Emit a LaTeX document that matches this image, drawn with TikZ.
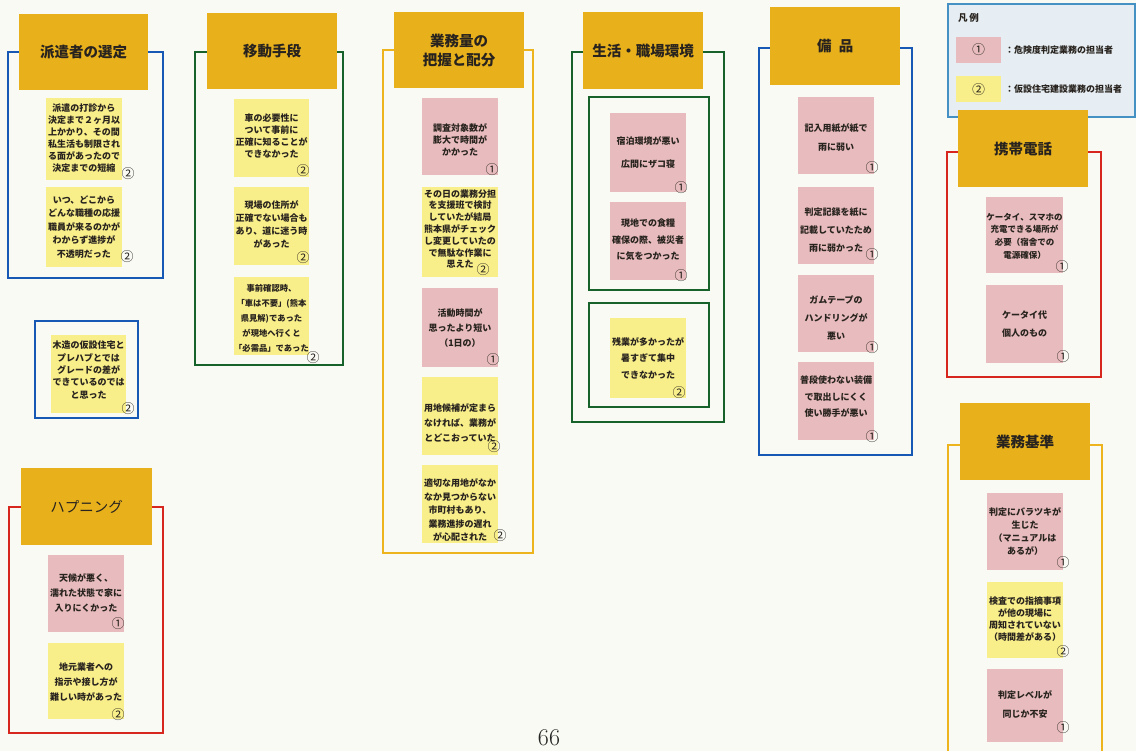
\documentclass[tikz,border=0pt]{standalone}
\usepackage{fontspec}
\newfontfamily\jp{Noto Sans CJK JP}
\definecolor{paper}{RGB}{250,250,244}
\definecolor{headgold}{RGB}{232,177,28}
\definecolor{notepink}{RGB}{232,188,190}
\definecolor{noteyellow}{RGB}{248,238,138}
\definecolor{fblue}{RGB}{22,88,180}
\definecolor{fgreen}{RGB}{22,98,42}
\definecolor{fred}{RGB}{214,38,30}
\definecolor{fgold}{RGB}{238,180,30}
\definecolor{legfill}{RGB}{230,238,243}
\definecolor{legline}{RGB}{70,145,195}
\definecolor{ink}{RGB}{40,35,30}
% note text font: size and line spacing
\newcommand\nf[2]{\jp\bfseries\fontsize{#1}{#2}\selectfont}
% a sticky note: name, x1, y1, x2, y2, fill, text centre y, {size}{spacing}, text
\newcommand\stick[9]{%
  \node[notebox, fill=#6, minimum width={#4-#2}, minimum height={#5-#3}] (#1) at ({(#2+#4)/2},{(#3+#5)/2}) {};
  \node[notetext, font=\nf#8] (#1-t) at ({(#2+#4)/2},#7) {#9};}
\tikzset{
  frame/.style={line width=2.5pt},
  innerframe/.style={line width=2.2pt},
  header/.style={fill=headgold, inner sep=0pt, anchor=north west, text=ink, align=center,
    font=\jp\bfseries\fontsize{14.5}{19}\selectfont},
  notebox/.style={inner sep=0pt, draw=none},
  notetext/.style={inner sep=0pt, align=center, text=ink},
  num/.style={inner sep=0pt, text=ink, font=\jp\fontsize{13}{13}\selectfont},
}
\begin{document}
\begin{tikzpicture}[x=1pt,y=-1pt]
\useasboundingbox (0,0) rectangle (1136,751);
\fill[paper] (0,0) rectangle (1136,751);

% group frames
\draw[frame, fblue] (8,52) rectangle (163,278);
\draw[frame, fblue] (35,321) rectangle (138,418);
\draw[frame, fred] (9,507) rectangle (163,733);
\draw[frame, fgreen] (195,52) rectangle (343,365);
\draw[frame, fgold] (383,50) rectangle (533,553);
\draw[frame, fgreen] (572,52) rectangle (724,422);
\draw[innerframe, fgreen] (589,97) rectangle (709,290);
\draw[innerframe, fgreen] (589,303) rectangle (709,407);
\draw[frame, fblue] (759,48) rectangle (912,455);
\draw[frame, fred] (947,152) rectangle (1101,377);
\draw[frame, fgold] (948,445) rectangle (1102,770);

% legend
\draw[legline, line width=1.8pt, fill=legfill] (948,4) rectangle (1135,117);
\node[anchor=west, inner sep=0pt, text=ink, font=\jp\bfseries\fontsize{9.5}{10}\selectfont] (lg-title) at (958,18) {凡\,例};
\node[fill=notepink, minimum width=45, minimum height=26, inner sep=0pt, font=\jp\fontsize{13}{13}\selectfont, text=ink] (lg-p) at (978.5,50) {①};
\node[fill=noteyellow, minimum width=45, minimum height=26, inner sep=0pt, font=\jp\fontsize{13}{13}\selectfont, text=ink] (lg-y) at (978.5,89.5) {②};
\node[anchor=west, inner sep=0pt, text=ink, font=\jp\bfseries\fontsize{9}{10}\selectfont] (lg-pt) at (1005,50) {：危険度判定業務の担当者};
\node[anchor=west, inner sep=0pt, text=ink, font=\jp\bfseries\fontsize{9}{10}\selectfont] (lg-yt) at (1005,89.5) {：仮設住宅建設業務の担当者};

% headers
\node[header, minimum width=129, minimum height=76] (h1) at (19,14) {派遣者の選定};
\node[header, minimum width=130, minimum height=76] (h2) at (207,13) {移動手段};
\node[header, minimum width=130, minimum height=76] (h3) at (394,12) {業務量の\\把握と配分};
\node[header, minimum width=120, minimum height=77] (h4) at (583,12) {生活・職場環境};
\node[header, minimum width=130, minimum height=78] (h5) at (770,7) {備\hspace{0.5em}品};
\node[header, minimum width=130, minimum height=77] (h6) at (958,110) {携帯電話};
\node[header, minimum width=130, minimum height=77] (h7) at (960,403) {業務基準};
\node[header, minimum width=131, minimum height=77, font=\jp\fontsize{14.5}{19}\selectfont] (h8) at (21,468) {ハプニング};

% 派遣者の選定
\stick{s1}{46}{98}{122}{180}{noteyellow}{138}{{9}{12}}{派遣の打診から\\決定まで２ヶ月以\\上かかり、その間\\私生活も制限され\\る面があったので\\決定までの短縮}
\node[num] (s1-n) at (128,174) {②};
\stick{s2}{46}{187}{122}{267}{noteyellow}{227}{{9}{13.5}}{いつ、どこから\\どんな職種の応援\\職員が来るのかが\\わからず進捗が\\不透明だった}
\node[num] (s2-n) at (127,257) {②};
\stick{s3}{51}{335}{126}{413}{noteyellow}{370}{{9}{12.3}}{木造の仮設住宅と\\プレハブとでは\\グレードの差が\\できているのでは\\と思った}
\node[num] (s3-n) at (128,409) {②};

% ハプニング
\stick{s4}{48}{555}{124}{632}{notepink}{593}{{9}{15}}{天候が悪く、\\濡れた状態で家に\\入りにくかった}
\node[num] (s4-n) at (118,624) {①};
\stick{s5}{48}{643}{124}{719}{noteyellow}{682}{{9}{15}}{地元業者への\\指示や接し方が\\難しい時があった}
\node[num] (s5-n) at (118,715) {②};

% 移動手段
\stick{m1}{234}{99}{309}{177}{noteyellow}{136}{{9}{12}}{車の必要性に\\ついて事前に\\正確に知ることが\\できなかった}
\node[num] (m1-n) at (303,171) {②};
\stick{m2}{234}{187}{309}{265}{noteyellow}{224}{{9}{13}}{現場の住所が\\正確でない場合も\\あり、道に迷う時\\があった}
\node[num] (m2-n) at (303,258) {②};
\stick{m3}{234}{277}{309}{355}{noteyellow}{318}{{8.3}{15}}{事前確認時、\\「車は不要」(熊本\\県見解)であった\\が現地へ行くと\\「必需品」であった}
\node[num] (m3-n) at (313,358) {②};

% 業務量の把握と配分
\stick{b1}{422}{98}{498}{175}{notepink}{140}{{9}{12}}{調査対象数が\\膨大で時間が\\かかった}
\node[num] (b1-n) at (492,170) {①};
\stick{b2}{422}{187}{498}{277}{noteyellow}{229}{{9}{11.8}}{その日の業務分担\\を支援班で検討\\していたが結局\\熊本県がチェック\\し変更していたの\\で無駄な作業に\\思えた}
\node[num] (b2-n) at (483,270) {②};
\stick{b3}{422}{288}{498}{367}{notepink}{328}{{9}{15}}{活動時間が\\思ったより短い\\（1日の）}
\node[num] (b3-n) at (493,360) {①};
\stick{b4}{422}{377}{498}{455}{noteyellow}{423}{{9}{15}}{用地候補が定まら\\なければ、業務が\\とどこおっていた}
\node[num] (b4-n) at (494,447) {②};
\stick{b5}{422}{465}{498}{543}{noteyellow}{510}{{9}{13.5}}{適切な用地がなか\\なか見つからない\\市町村もあり、\\業務進捗の遅れ\\が心配された}
\node[num] (b5-n) at (500,536) {②};

% 生活・職場環境
\stick{e1}{610}{113}{686}{192}{notepink}{152}{{9}{23}}{宿泊環境が悪い\\広間にザコ寝}
\node[num] (e1-n) at (681,188) {①};
\stick{e2}{610}{202}{686}{280}{notepink}{240}{{9}{16.5}}{現地での食糧\\確保の際、被災者\\に気をつかった}
\node[num] (e2-n) at (681,276) {①};
\stick{e3}{610}{318}{686}{398}{noteyellow}{358}{{9}{16.5}}{残業が多かったが\\暑すぎて集中\\できなかった}
\node[num] (e3-n) at (679,393) {②};

% 備品
\stick{k1}{798}{97}{874}{174}{notepink}{137}{{9}{19}}{記入用紙が紙で\\雨に弱い}
\node[num] (k1-n) at (872,168) {①};
\stick{k2}{798}{187}{874}{264}{notepink}{230}{{9}{18}}{判定記録を紙に\\記載していたため\\雨に弱かった}
\node[num] (k2-n) at (872,255) {①};
\stick{k3}{798}{275}{874}{352}{notepink}{318}{{9}{18}}{ガムテープの\\ハンドリングが\\悪い}
\node[num] (k3-n) at (872,348) {①};
\stick{k4}{798}{362}{874}{440}{notepink}{397}{{9}{16.5}}{普段使わない装備\\で取出しにくく\\使い勝手が悪い}
\node[num] (k4-n) at (872,437) {①};

% 携帯電話
\stick{t1}{986}{197}{1063}{273}{notepink}{236}{{8.5}{12.7}}{ケータイ、スマホの\\充電できる場所が\\必要（宿舎での\\電源確保）}
\node[num] (t1-n) at (1062,267) {①};
\stick{t2}{986}{285}{1063}{363}{notepink}{324}{{9}{18}}{ケータイ代\\個人のもの}
\node[num] (t2-n) at (1063,357) {①};

% 業務基準
\stick{g1}{987}{493}{1063}{570}{notepink}{532}{{9}{13}}{判定にバラツキが\\生じた\\（マニュアルは\\あるが）}
\node[num] (g1-n) at (1063,563) {①};
\stick{g2}{987}{582}{1063}{658}{noteyellow}{619}{{9}{12}}{検査での指摘事項\\が他の現場に\\周知されていない\\（時間差がある）}
\node[num] (g2-n) at (1063,652) {②};
\stick{g3}{987}{669}{1063}{742}{notepink}{704}{{9}{19}}{判定レベルが\\同じか不安}
\node[num] (g3-n) at (1063,728) {①};

% page number
\node[anchor=base, inner sep=0pt, font=\fontsize{24}{24}\selectfont, text=black!85] (pg) at (549,745.5) {66};
\end{tikzpicture}
\end{document}
